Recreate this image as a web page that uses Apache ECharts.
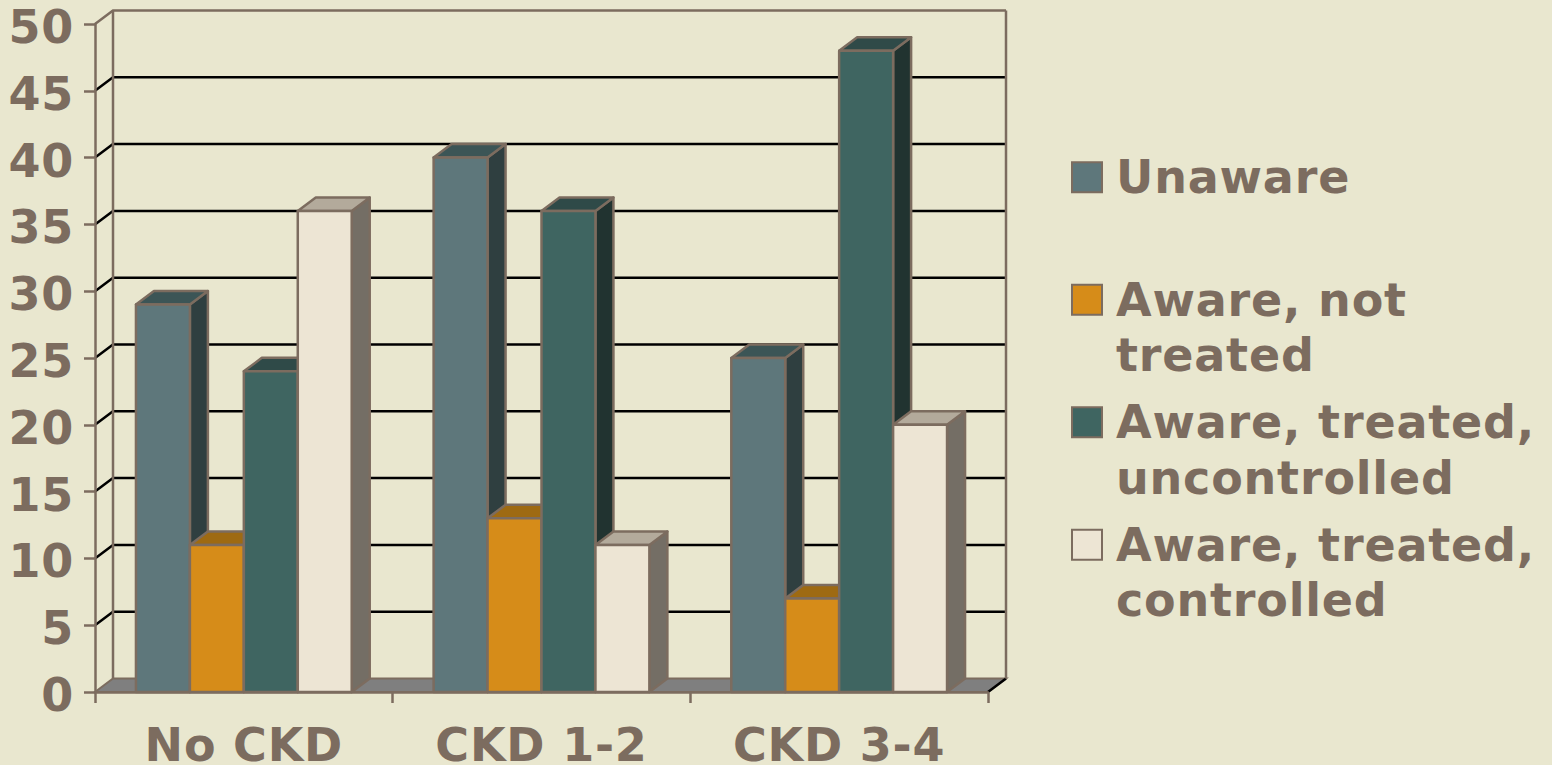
<!DOCTYPE html>
<html>
<head>
<meta charset="utf-8">
<title>Hypertension awareness by CKD stage</title>
<style>
  html, body { margin: 0; padding: 0; background: #E9E7CF; }
  #chart { width: 1552px; height: 765px; letter-spacing: 0.8px; }
</style>
<script src="https://cdn.jsdelivr.net/npm/echarts@6/dist/echarts.min.js"></script>
</head>
<body>
<div id="chart"></div>
<script>
const categories = ['No CKD', 'CKD 1-2', 'CKD 3-4'];
const valueTicks = [0, 5, 10, 15, 20, 25, 30, 35, 40, 45, 50];
const unaware = [29, 40, 25];
const awareNotTreated = [11, 13, 7];
const awareUncontrolled = [24, 36, 48];
const awareControlled = [36, 11, 20];

const seriesNames = ['Unaware', 'Aware, not treated', 'Aware, treated, uncontrolled', 'Aware, treated, controlled'];
const legendLabels = ['Unaware', 'Aware, not\ntreated', 'Aware, treated,\nuncontrolled', 'Aware, treated,\ncontrolled'];
const seriesValues = [unaware, awareNotTreated, awareUncontrolled, awareControlled];

// front, top and side face colours of each bar family
const frontColors = ['#5E777B', '#D68C19', '#3F6561', '#EDE5D4'];
const topColors = ['#3C5556', '#9E6A12', '#2F4A48', '#B3AA9B'];
const sideColors = ['#2F3F40', '#7A5210', '#213330', '#746E65'];

const ink = '#7C6C5F';
const depthX = 18;
const depthY = 13.5;
const barShare = 0.1812;

const fontFamily = '"DejaVu Sans", Verdana, sans-serif';

function face(points, fill) {
  return {
    type: 'polygon',
    shape: { points },
    style: { fill, stroke: ink, lineWidth: 2.5, lineJoin: 'round' }
  };
}

// Back wall, floor and the gridlines that wrap from the value axis onto the wall.
function renderWalls(params, api) {
  const rect = params.coordSys;
  const left = rect.x;
  const right = rect.x + rect.width;
  const tick = api.value(1);
  const y = api.coord([0, tick])[1];
  const children = [];
  const backY = y - depthY;

  const line = (pts, stroke, lineWidth) => ({
    type: 'polyline',
    shape: { points: pts },
    style: { fill: 'none', stroke, lineWidth }
  });

  if (tick === 0) {
    children.push({
      type: 'polygon',
      shape: { points: [[left, y], [left + depthX, backY], [right + depthX, backY], [right, y]] },
      style: { fill: '#7F7F7F', stroke: ink, lineWidth: 2 }
    });
    children.push(line([[right, y], [right + depthX, backY]], '#000', 2.5));
  } else if (tick === 50) {
    children.push(line([[left, y], [left + depthX, backY], [right + depthX, backY]], ink, 2.5));
    children.push(line([[left + depthX, backY], [left + depthX, rect.y + rect.height - depthY]], ink, 2.5));
    children.push(line([[right + depthX, backY], [right + depthX, rect.y + rect.height - depthY]], ink, 2.5));
  } else {
    children.push(line([[left, y], [left + depthX, backY], [right + depthX, backY]], '#000', 2.5));
  }
  return { type: 'group', children };
}

function barRenderer(index) {
  return function (params, api) {
    const cat = api.value(0);
    const top = api.coord([cat, api.value(1)]);
    const base = api.coord([cat, 0]);
    const band = api.size([1, 0])[0];
    const w = band * barShare;
    const x = top[0] + (index - 2) * w;
    const y = top[1];
    const y0 = base[1];
    const sx = x + w;
    return {
      type: 'group',
      children: [
        face([[sx, y], [sx + depthX, y - depthY], [sx + depthX, y0 - depthY], [sx, y0]], sideColors[index]),
        face([[x, y], [x + depthX, y - depthY], [sx + depthX, y - depthY], [sx, y]], topColors[index]),
        face([[x, y], [sx, y], [sx, y0], [x, y0]], frontColors[index])
      ]
    };
  };
}

const wallSeries = {
  name: 'walls',
  type: 'custom',
  renderItem: renderWalls,
  clip: false,
  silent: true,
  encode: { x: 0, y: 1 },
  data: valueTicks.map(t => [0, t])
};

const barSeries = seriesNames.map((name, i) => ({
  name,
  type: 'custom',
  renderItem: barRenderer(i),
  clip: false,
  itemStyle: { color: frontColors[i], borderColor: ink, borderWidth: 2 },
  encode: { x: 0, y: 1 },
  data: seriesValues[i].map((v, c) => [c, v])
}));

const chart = echarts.init(document.getElementById('chart'), null, { renderer: 'svg' });
chart.setOption({
  backgroundColor: '#E9E7CF',
  animation: false,
  textStyle: { fontFamily },
  grid: { left: 95, right: 564, top: 24, bottom: 73, containLabel: false, outerBoundsMode: 'none' },
  xAxis: {
    type: 'category',
    data: categories,
    boundaryGap: true,
    axisLine: { lineStyle: { color: ink, width: 2.5 } },
    axisTick: { show: true, length: 11, alignWithLabel: false, lineStyle: { color: ink, width: 2.5 } },
    axisLabel: {
      color: ink, fontFamily, fontWeight: 'bold', fontSize: 46, margin: 35,
      lineHeight: 36, interval: 0, hideOverlap: false
    },
    z: 10
  },
  yAxis: {
    type: 'value',
    min: 0, max: 50, interval: 5,
    splitLine: { show: false },
    axisLine: { show: true, lineStyle: { color: ink, width: 2.5 } },
    axisTick: { show: true, length: 11, lineStyle: { color: ink, width: 2.5 } },
    axisLabel: {
      color: ink, fontFamily, fontWeight: 'bold', fontSize: 46, margin: 21,
      verticalAlign: 'top', lineHeight: 6
    },
    z: 10
  },
  legend: {
    show: true,
    orient: 'vertical',
    left: 1071,
    top: 94,
    padding: 0,
    itemWidth: 30,
    itemHeight: 30,
    itemGap: -44,
    icon: 'rect',
    data: seriesNames,
    selectedMode: false,
    formatter: name => '\u00a0\n' + legendLabels[seriesNames.indexOf(name)] + (name === 'Unaware' ? '\n\u00a0' : ''),
    textStyle: {
      color: ink, fontFamily, fontWeight: 'bold', fontSize: 46, lineHeight: 55.5,
      padding: [0, 0, 0, 9]
    }
  },
  series: [wallSeries].concat(barSeries)
});
</script>
</body>
</html>
